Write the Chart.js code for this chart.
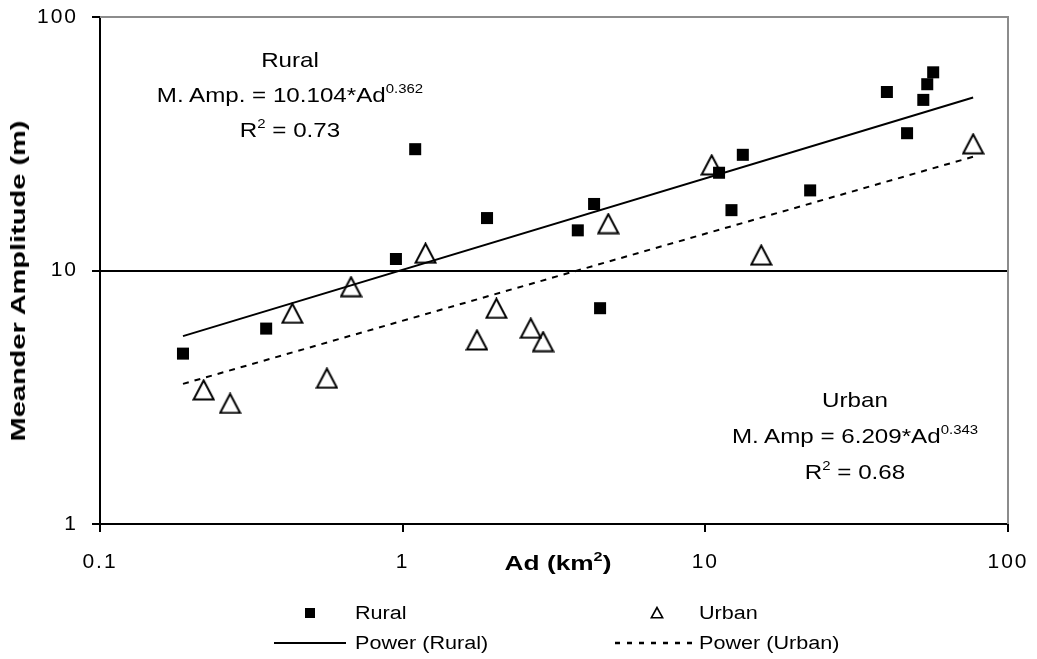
<!DOCTYPE html>
<html>
<head>
<meta charset="utf-8">
<script src="https://cdn.jsdelivr.net/npm/chart.js@4.4.1/dist/chart.umd.min.js"></script>
<style>
  html, body { margin: 0; padding: 0; background: #fff; }
  #wrap { position: relative; width: 1037px; height: 659px; font-family: "Liberation Sans", Arial, sans-serif; color: #000; }
  #c { position: absolute; left: 0; top: 0; }
  .ann { position: absolute; text-align: center; white-space: nowrap; font-size: 21px; transform: translate(-50%, -50%) scaleX(1.15); }
  .ann sup { font-size: 13px; vertical-align: 9px; line-height: 0; }
  .ttl { position: absolute; white-space: nowrap; font-weight: bold; font-size: 21px; }
  .ttl sup { font-size: 13px; vertical-align: 9px; line-height: 0; }
  .lg { position: absolute; white-space: nowrap; font-size: 18px; transform-origin: 0 50%; transform: translateY(-50%) scaleX(1.2); }
</style>
</head>
<body>
<div id="wrap">
  <canvas id="c" width="1037" height="659"></canvas>

  <div class="ann" style="left:290px; top:94px; line-height:35px;">Rural<br>M. Amp. = 10.104*Ad<sup>0.362</sup><br>R<sup>2</sup> = 0.73</div>
  <div class="ann" style="left:855px; top:436px; line-height:36px;">Urban<br>M. Amp = 6.209*Ad<sup>0.343</sup><br>R<sup>2</sup> = 0.68</div>

  <div class="ttl" style="left:558px; top:563px; transform: translate(-50%, -50%) scaleX(1.25);">Ad (km<sup>2</sup>)</div>
  <div class="ttl" style="left:18px; top:281px; transform: translate(-50%, -50%) rotate(-90deg) scaleX(1.38);">Meander Amplitude (m)</div>

  <!-- legend -->
  <div style="position:absolute; left:305px; top:608px; width:10px; height:10px; background:#000;"></div>
  <div class="lg" style="left:355px; top:613px;">Rural</div>
  <svg style="position:absolute; left:650px; top:606px;" width="14" height="13"><polygon points="7,1.5 1.3,11.8 12.7,11.8" fill="none" stroke="#000" stroke-width="1.6"/></svg>
  <div class="lg" style="left:699px; top:613px;">Urban</div>
  <svg style="position:absolute; left:274px; top:641px;" width="72" height="4"><line x1="0" y1="2" x2="72" y2="2" stroke="#000" stroke-width="2"/></svg>
  <div class="lg" style="left:355px; top:643px;">Power (Rural)</div>
  <svg style="position:absolute; left:615px; top:641px;" width="84" height="4"><line x1="0" y1="2" x2="84" y2="2" stroke="#000" stroke-width="2.5" stroke-dasharray="5,7"/></svg>
  <div class="lg" style="left:699px; top:643px;">Power (Urban)</div>
</div>

<script>
// ---- data ----
const ruralAd  = [0.188, 0.354, 0.95, 1.10, 1.90, 3.79, 4.29, 4.49, 11.1, 12.2, 13.3, 22.2, 39.8, 46.4, 52.5, 54.1, 56.6];
const ruralAmp = [4.7,   5.9,   11.1, 30.1, 16.1, 14.4, 18.3, 7.1,  24.3, 17.3, 28.6, 20.7, 50.6, 34.8, 47.1, 54.3, 60.5];

const urbanAd  = [0.220, 0.269, 0.432, 0.562, 0.675, 1.19, 1.76, 2.04, 2.65, 2.91, 4.78, 10.5, 15.3, 76.7];
const urbanAmp = [3.38,  2.99,  6.78,  3.76,  8.63,  11.7, 5.32, 7.09, 5.92, 5.24, 15.3, 26.1, 11.5, 31.6];

// power trend lines (end points)
const trendAd       = [0.188, 76.7];
const ruralTrendAmp = [5.51, 48.1];
const urbanTrendAmp = [3.57, 28.1];

const xTickValues = [0.1, 1, 10, 100];
const xTickLabels = ['0.1', '1', '10', '100'];
const yTickValues = [1, 10, 100];
const yTickLabels = ['1', '10', '100'];

const pts = (xs, ys) => xs.map((x, i) => ({ x: x, y: ys[i] }));

// open triangle marker, centred in its box
const tri = document.createElement('canvas');
tri.width = 23; tri.height = 22;
(function () {
  const g = tri.getContext('2d');
  g.lineWidth = 2; g.strokeStyle = '#000'; g.lineJoin = 'miter';
  g.beginPath();
  g.moveTo(11.5, 1.5); g.lineTo(1.5, 20.5); g.lineTo(21.5, 20.5); g.closePath();
  g.stroke();
})();

const frame = {
  id: 'frame',
  beforeDraw(chart) { chart.ctx.letterSpacing = '2px'; },
  beforeDatasetsDraw(chart) {
    const a = chart.chartArea, ctx = chart.ctx;
    ctx.save();
    ctx.strokeStyle = '#8c8c8c';
    ctx.lineWidth = 2;
    ctx.beginPath();
    ctx.moveTo(a.left, a.top);
    ctx.lineTo(a.right, a.top);
    ctx.lineTo(a.right, a.bottom);
    ctx.stroke();
    ctx.restore();
  }
};

const noPad = s => { s.paddingTop = 0; s.paddingBottom = 0; s.paddingLeft = 0; s.paddingRight = 0; };
const tickFont = { family: '"Liberation Sans", Arial, sans-serif', size: 21 };

new Chart(document.getElementById('c'), {
  type: 'scatter',
  data: {
    datasets: [
      { label: 'Power (Rural)', data: pts(trendAd, ruralTrendAmp), showLine: true, borderColor: '#000', borderWidth: 2, pointRadius: 0, pointHoverRadius: 0, fill: false, order: 0 },
      { label: 'Power (Urban)', data: pts(trendAd, urbanTrendAmp), showLine: true, borderColor: '#000', borderWidth: 2, borderDash: [6, 6], pointRadius: 0, pointHoverRadius: 0, fill: false, order: 0 },
      { label: 'Rural', data: pts(ruralAd, ruralAmp), pointStyle: 'rect', pointRadius: 8.5, pointHoverRadius: 8.5, backgroundColor: '#000', borderColor: '#000', borderWidth: 0, order: 1 },
      { label: 'Urban', data: pts(urbanAd, urbanAmp), pointStyle: tri, pointRadius: 11, pointHoverRadius: 11, backgroundColor: 'rgba(0,0,0,0)', borderColor: '#000', order: 1 }
    ]
  },
  options: {
    responsive: false,
    animation: false,
    events: [],
    layout: { autoPadding: false, padding: { left: 0, top: 17, right: 29, bottom: 0 } },
    plugins: { legend: { display: false }, tooltip: { enabled: false } },
    scales: {
      x: {
        type: 'logarithmic', min: 0.1, max: 100, position: 'bottom',
        afterBuildTicks: s => { s.ticks = xTickValues.map(v => ({ value: v })); },
        afterFit: s => { s.height = 135; noPad(s); },
        ticks: { font: tickFont, color: '#000', padding: 18, maxRotation: 0, autoSkip: false,
                 callback: (v, i) => xTickLabels[i] },
        grid: { drawOnChartArea: false, drawTicks: true, tickLength: 8, tickColor: '#000', tickWidth: 2, color: '#000', lineWidth: 2 },
        border: { display: true, color: '#000', width: 2 }
      },
      y: {
        type: 'logarithmic', min: 1, max: 100, position: 'left',
        afterBuildTicks: s => { s.ticks = yTickValues.map(v => ({ value: v })); },
        afterFit: s => { s.width = 100; noPad(s); },
        ticks: { font: tickFont, color: '#000', padding: 14, autoSkip: false,
                 callback: (v, i) => yTickLabels[i] },
        grid: { drawTicks: true, tickLength: 8, tickColor: '#000', tickWidth: 2, lineWidth: 2,
                color: ctx => (ctx.tick && ctx.tick.value === 10) ? '#000' : 'rgba(0,0,0,0)' },
        border: { display: true, color: '#000', width: 2 }
      }
    }
  },
  plugins: [frame]
});
</script>
</body>
</html>
